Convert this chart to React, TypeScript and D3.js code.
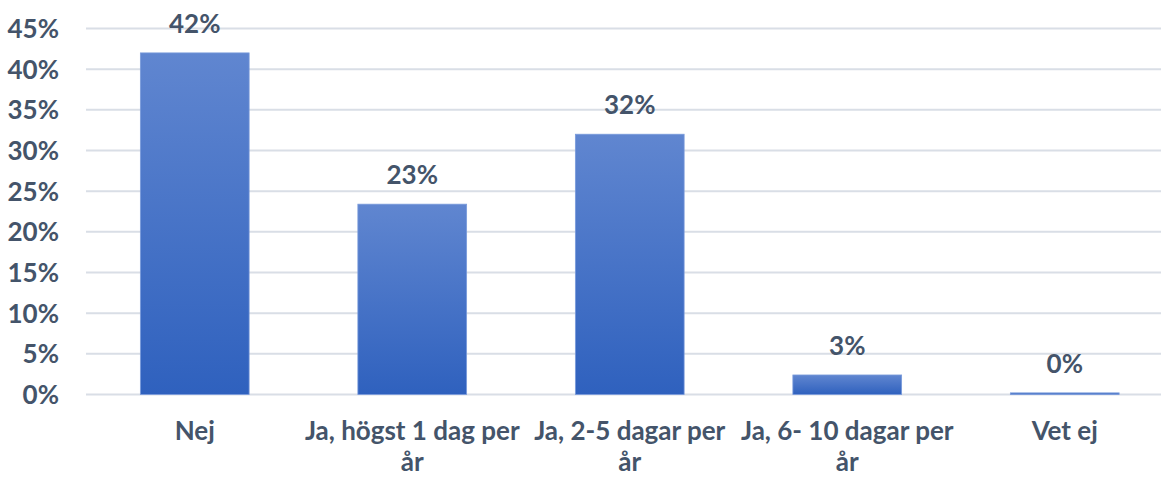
import React from "react";
import * as d3 from "d3";

const categories = [
  "Nej",
  "Ja, högst 1 dag per år",
  "Ja, 2-5 dagar per år",
  "Ja, 6- 10 dagar per år",
  "Vet ej",
];
const values = [42, 23.4, 32, 2.4, 0.2];
const valueLabels = ["42%", "23%", "32%", "3%", "0%"];
const yTicks = [0, 5, 10, 15, 20, 25, 30, 35, 40, 45];

const W = 1161;
const H = 477;
const FONT = "Lato, 'Open Sans', sans-serif";
const TEXT = "#44546A";
const FS = 26;

function wrap(text: string, maxW: number, font: string): string[] {
  const c = document.createElement("canvas").getContext("2d")!;
  c.font = font;
  const words = text.split(" ");
  const lines: string[] = [];
  let cur = "";
  for (const w of words) {
    const t = cur ? cur + " " + w : w;
    if (c.measureText(t).width > maxW && cur) {
      lines.push(cur);
      cur = w;
    } else cur = t;
  }
  if (cur) lines.push(cur);
  return lines;
}

export default function App() {
  const left = 86;
  const step = 217.5;
  const x = d3
    .scaleBand<string>()
    .domain(categories)
    .range([left, left + step * categories.length])
    .paddingInner(0.5)
    .paddingOuter(0.25);
  const y = d3.scaleLinear().domain([0, 45]).range([394.5, 28.5]);
  const catFont = `bold ${FS}px ${FONT}`;

  return (
    <svg
      width={W}
      height={H}
      style={{ position: "absolute", left: 0, top: 0, background: "#fff" }}
    >
      <defs>
        <linearGradient id="barGrad" x1="0" y1="0" x2="0" y2="1">
          <stop offset="0%" stopColor="#6086D0" />
          <stop offset="100%" stopColor="#2F61BE" />
        </linearGradient>
      </defs>
      {yTicks.map((t) => (
        <g key={t}>
          <line
            x1={left}
            x2={W}
            y1={y(t)}
            y2={y(t)}
            stroke="#D9DEE6"
            strokeWidth={2}
          />
          <text
            x={59}
            y={y(t)}
            dy="0.36em"
            textAnchor="end"
            fontFamily={FONT}
            fontWeight="bold"
            fontSize={FS}
            fill={TEXT}
          >
            {t}%
          </text>
        </g>
      ))}
      {categories.map((c, i) => {
        const bx = x(c)!;
        const bw = x.bandwidth();
        const top = y(values[i]);
        const cx = bx + bw / 2;
        const lines = wrap(c, 220, catFont);
        return (
          <g key={c}>
            <rect
              x={bx}
              y={top}
              width={bw}
              height={y(0) - top}
              fill="url(#barGrad)"
              stroke="#7A9BDB"
              strokeWidth={0.8}
            />
            <text
              x={cx}
              y={top - 20}
              textAnchor="middle"
              fontFamily={FONT}
              fontWeight="bold"
              fontSize={FS}
              fill={TEXT}
            >
              {valueLabels[i]}
            </text>
            {lines.map((l, j) => (
              <text
                key={j}
                x={cx}
                y={440 + j * 31}
                textAnchor="middle"
                fontFamily={FONT}
                fontWeight="bold"
                fontSize={FS}
                fill={TEXT}
              >
                {l}
              </text>
            ))}
          </g>
        );
      })}
    </svg>
  );
}
